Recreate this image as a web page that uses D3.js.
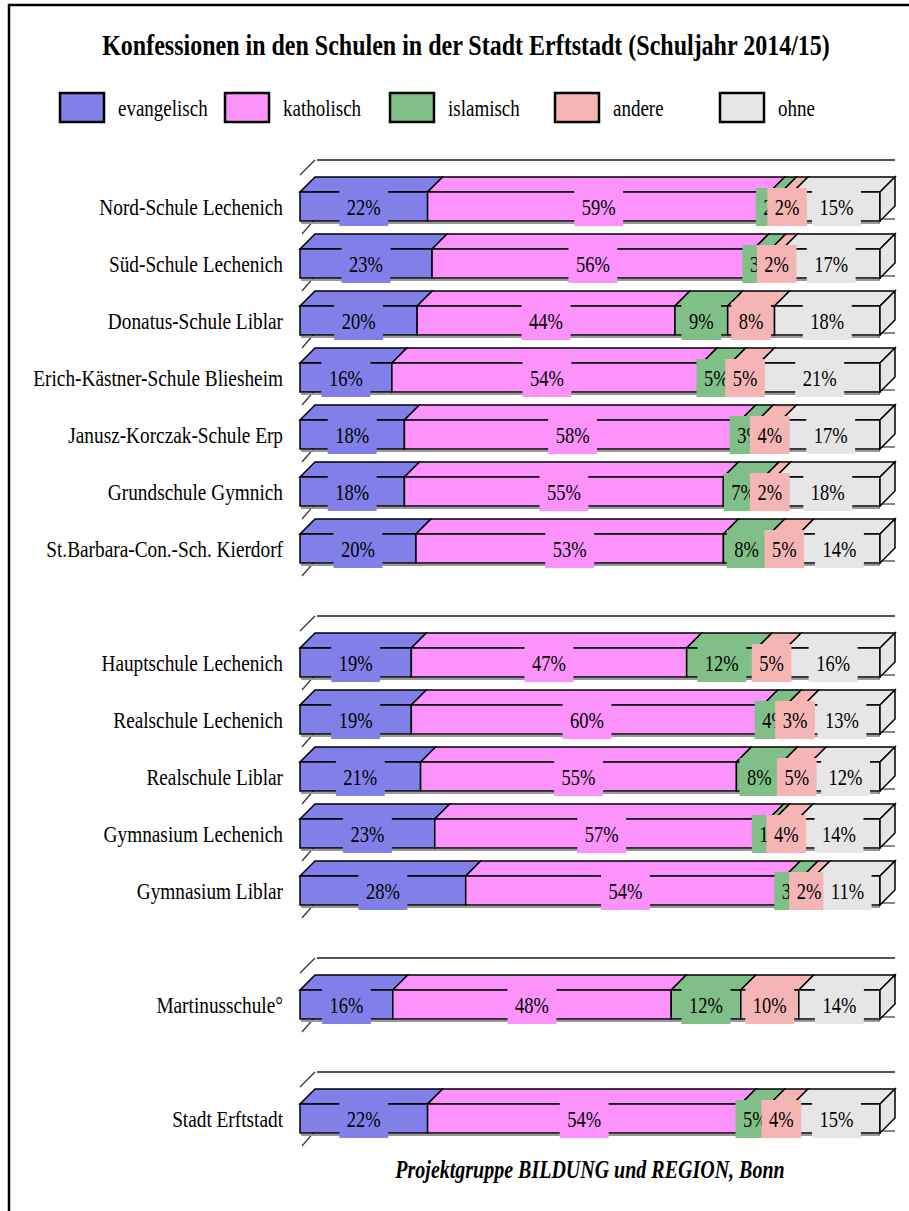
<!DOCTYPE html>
<html>
<head>
<meta charset="utf-8">
<script src="https://cdn.jsdelivr.net/npm/d3@7"></script>
<style>
  body { margin: 0; background: #fff; }
  text { font-family: "Liberation Serif", "Times New Roman", serif; fill: #000; }
</style>
</head>
<body>
<svg id="chart" width="909" height="1211"></svg>
<script>
// Schools (rows) and the block each belongs to; blocks are separated by an empty slot
const schools = [
  "Nord-Schule Lechenich", "Süd-Schule Lechenich", "Donatus-Schule Liblar",
  "Erich-Kästner-Schule Bliesheim", "Janusz-Korczak-Schule Erp", "Grundschule Gymnich",
  "St.Barbara-Con.-Sch. Kierdorf",
  "Hauptschule Lechenich", "Realschule Lechenich", "Realschule Liblar",
  "Gymnasium Lechenich", "Gymnasium Liblar",
  "Martinusschule°",
  "Stadt Erftstadt"
];
const blocks = [0, 0, 0, 0, 0, 0, 0, 1, 1, 1, 1, 1, 2, 3];

// Share of pupils per denomination, in percent
const evangelisch = [22, 23, 20, 16, 18, 18, 20, 19, 19, 21, 23, 28, 16, 22];
const katholisch  = [59, 56, 44, 54, 58, 55, 53, 47, 60, 55, 57, 54, 48, 54];
const islamisch   = [ 2,  3,  9,  5,  3,  7,  8, 12,  4,  8,  1,  3, 12,  5];
const andere      = [ 2,  2,  8,  5,  4,  2,  5,  5,  3,  5,  4,  2, 10,  4];
const ohne        = [15, 17, 18, 21, 17, 18, 14, 16, 13, 12, 14, 11, 14, 15];

const seriesNames = ["evangelisch", "katholisch", "islamisch", "andere", "ohne"];
const seriesColors = ["#8080e8", "#fc92fc", "#80c088", "#f5b5b5", "#e6e6e6"];

const title = "Konfessionen in den Schulen in der Stadt Erftstadt (Schuljahr 2014/15)";
const source = "Projektgruppe BILDUNG und REGION, Bonn";

// ---- table for the stack layout ----
const valuesBySeries = { evangelisch, katholisch, islamisch, andere, ohne };
const table = schools.map((name, i) => {
  const row = { name, slot: i + blocks[i], block: blocks[i] };
  seriesNames.forEach(k => row[k] = valuesBySeries[k][i]);
  return row;
});

const svg = d3.select("#chart");
const color = d3.scaleOrdinal(seriesNames, seriesColors);

// Text in this chart is set in a tall, narrow serif: stretch vertically around the baseline
const STRETCH = 1.25;
function label(parent, x, y, str, size) {
  return parent.append("text")
    .attr("transform", `translate(${x},${y}) scale(1,${STRETCH})`)
    .style("font-size", size + "px")
    .text(str);
}

// Frame
svg.append("rect")
  .attr("x", 9).attr("y", 5).attr("width", 1000).attr("height", 1300)
  .attr("fill", "none").attr("stroke", "#000").attr("stroke-width", 2.5);

// Title
label(svg, 466, 55, title, 24)
  .attr("text-anchor", "middle")
  .style("font-weight", "bold");

// Legend
const legend = svg.append("g");
seriesNames.forEach((k, i) => {
  const lx = 60 + 165 * i;
  legend.append("rect")
    .attr("x", lx).attr("y", 93).attr("width", 44).attr("height", 29)
    .attr("fill", color(k)).attr("stroke", "#000").attr("stroke-width", 2.5);
  label(legend, lx + 58, 116, k, 19);
});

// Scales
const totalSlots = d3.max(table, d => d.slot) + 1;
const y = d3.scaleBand().domain(d3.range(totalSlots)).range([178.5, 1147.5]);
const x = d3.scaleLinear().domain([0, 1]).range([300, 880]);
const center = s => y(s) + y.bandwidth() / 2;

const depth = 15;    // oblique offset of the 3D bars
const halfTop = 15;  // front face above centre
const halfBot = 14;  // front face below centre

const stacked = d3.stack().keys(seriesNames).offset(d3.stackOffsetExpand)(table);

// ---- back walls: block top edge, row separators ----
const walls = svg.append("g");
d3.groups(table, d => d.block).forEach(([, rows]) => {
  const c0 = center(rows[0].slot);
  walls.append("line")
    .attr("x1", x(0)).attr("y1", c0 - 32)
    .attr("x2", x(0) + depth).attr("y2", c0 - 47)
    .attr("stroke", "#333").attr("stroke-width", 1.2);
  walls.append("line")
    .attr("x1", x(0) + depth + 2).attr("y1", c0 - 47)
    .attr("x2", x(1) + depth).attr("y2", c0 - 47)
    .attr("stroke", "#555").attr("stroke-width", 2);
  rows.forEach(r => {
    const c = center(r.slot);
    walls.append("line")
      .attr("x1", x(0) + 2).attr("y1", c + 27)
      .attr("x2", x(0) + depth).attr("y2", c + 12)
      .attr("stroke", "#333").attr("stroke-width", 1.2);
    walls.append("line")
      .attr("x1", x(0) + depth).attr("y1", c + 12)
      .attr("x2", x(1) + depth).attr("y2", c + 12)
      .attr("stroke", "#888").attr("stroke-width", 2);
  });
});

// ---- bars ----
const bars = svg.append("g")
  .attr("stroke", "#000").attr("stroke-width", 1.5).attr("stroke-linejoin", "miter");

table.forEach((row, i) => {
  const c = center(row.slot);
  const g = bars.append("g");
  // shadow line below the front face
  g.append("line")
    .attr("x1", x(0) + 1).attr("y1", c + halfBot + 2)
    .attr("x2", x(1)).attr("y2", c + halfBot + 2)
    .attr("stroke", "#999").attr("stroke-width", 2);
  // top faces
  stacked.forEach(s => {
    const x0 = x(s[i][0]), x1 = x(s[i][1]);
    g.append("path")
      .attr("d", `M${x0},${c - halfTop}L${x1},${c - halfTop}L${x1 + depth},${c - halfTop - depth}L${x0 + depth},${c - halfTop - depth}Z`)
      .attr("fill", color(s.key));
  });
  // front faces
  stacked.forEach(s => {
    const x0 = x(s[i][0]), x1 = x(s[i][1]);
    g.append("rect")
      .attr("x", x0).attr("y", c - halfTop)
      .attr("width", Math.max(0, x1 - x0)).attr("height", halfTop + halfBot)
      .attr("fill", color(s.key));
  });
  // right side face of the last segment
  const last = stacked[stacked.length - 1];
  const xr = x(last[i][1]);
  g.append("path")
    .attr("d", `M${xr},${c - halfTop}L${xr + depth},${c - halfTop - depth}L${xr + depth},${c + halfBot - depth}L${xr},${c + halfBot}Z`)
    .attr("fill", color(last.key));
});

// ---- value labels with filled boxes ----
const labels = svg.append("g");
table.forEach((row, i) => {
  const c = center(row.slot);
  stacked.forEach(s => {
    const mid = (x(s[i][0]) + x(s[i][1])) / 2;
    const lg = labels.append("g");
    const t = label(lg, mid, c + 8, row[s.key] + "%", 18.5)
      .attr("text-anchor", "middle");
    const w = t.node().getComputedTextLength() + 15;
    lg.insert("rect", "text")
      .attr("x", mid - w / 2).attr("y", c - 19)
      .attr("width", w).attr("height", 38)
      .attr("fill", color(s.key));
  });
});

// ---- category labels ----
const cats = svg.append("g");
table.forEach(d => {
  label(cats, 283, center(d.slot) + 8, d.name, 19.3)
    .attr("text-anchor", "end");
});

// Source line
label(svg, 590, 1178, source, 20)
  .attr("text-anchor", "middle")
  .style("font-weight", "bold").style("font-style", "italic");
</script>
</body>
</html>
